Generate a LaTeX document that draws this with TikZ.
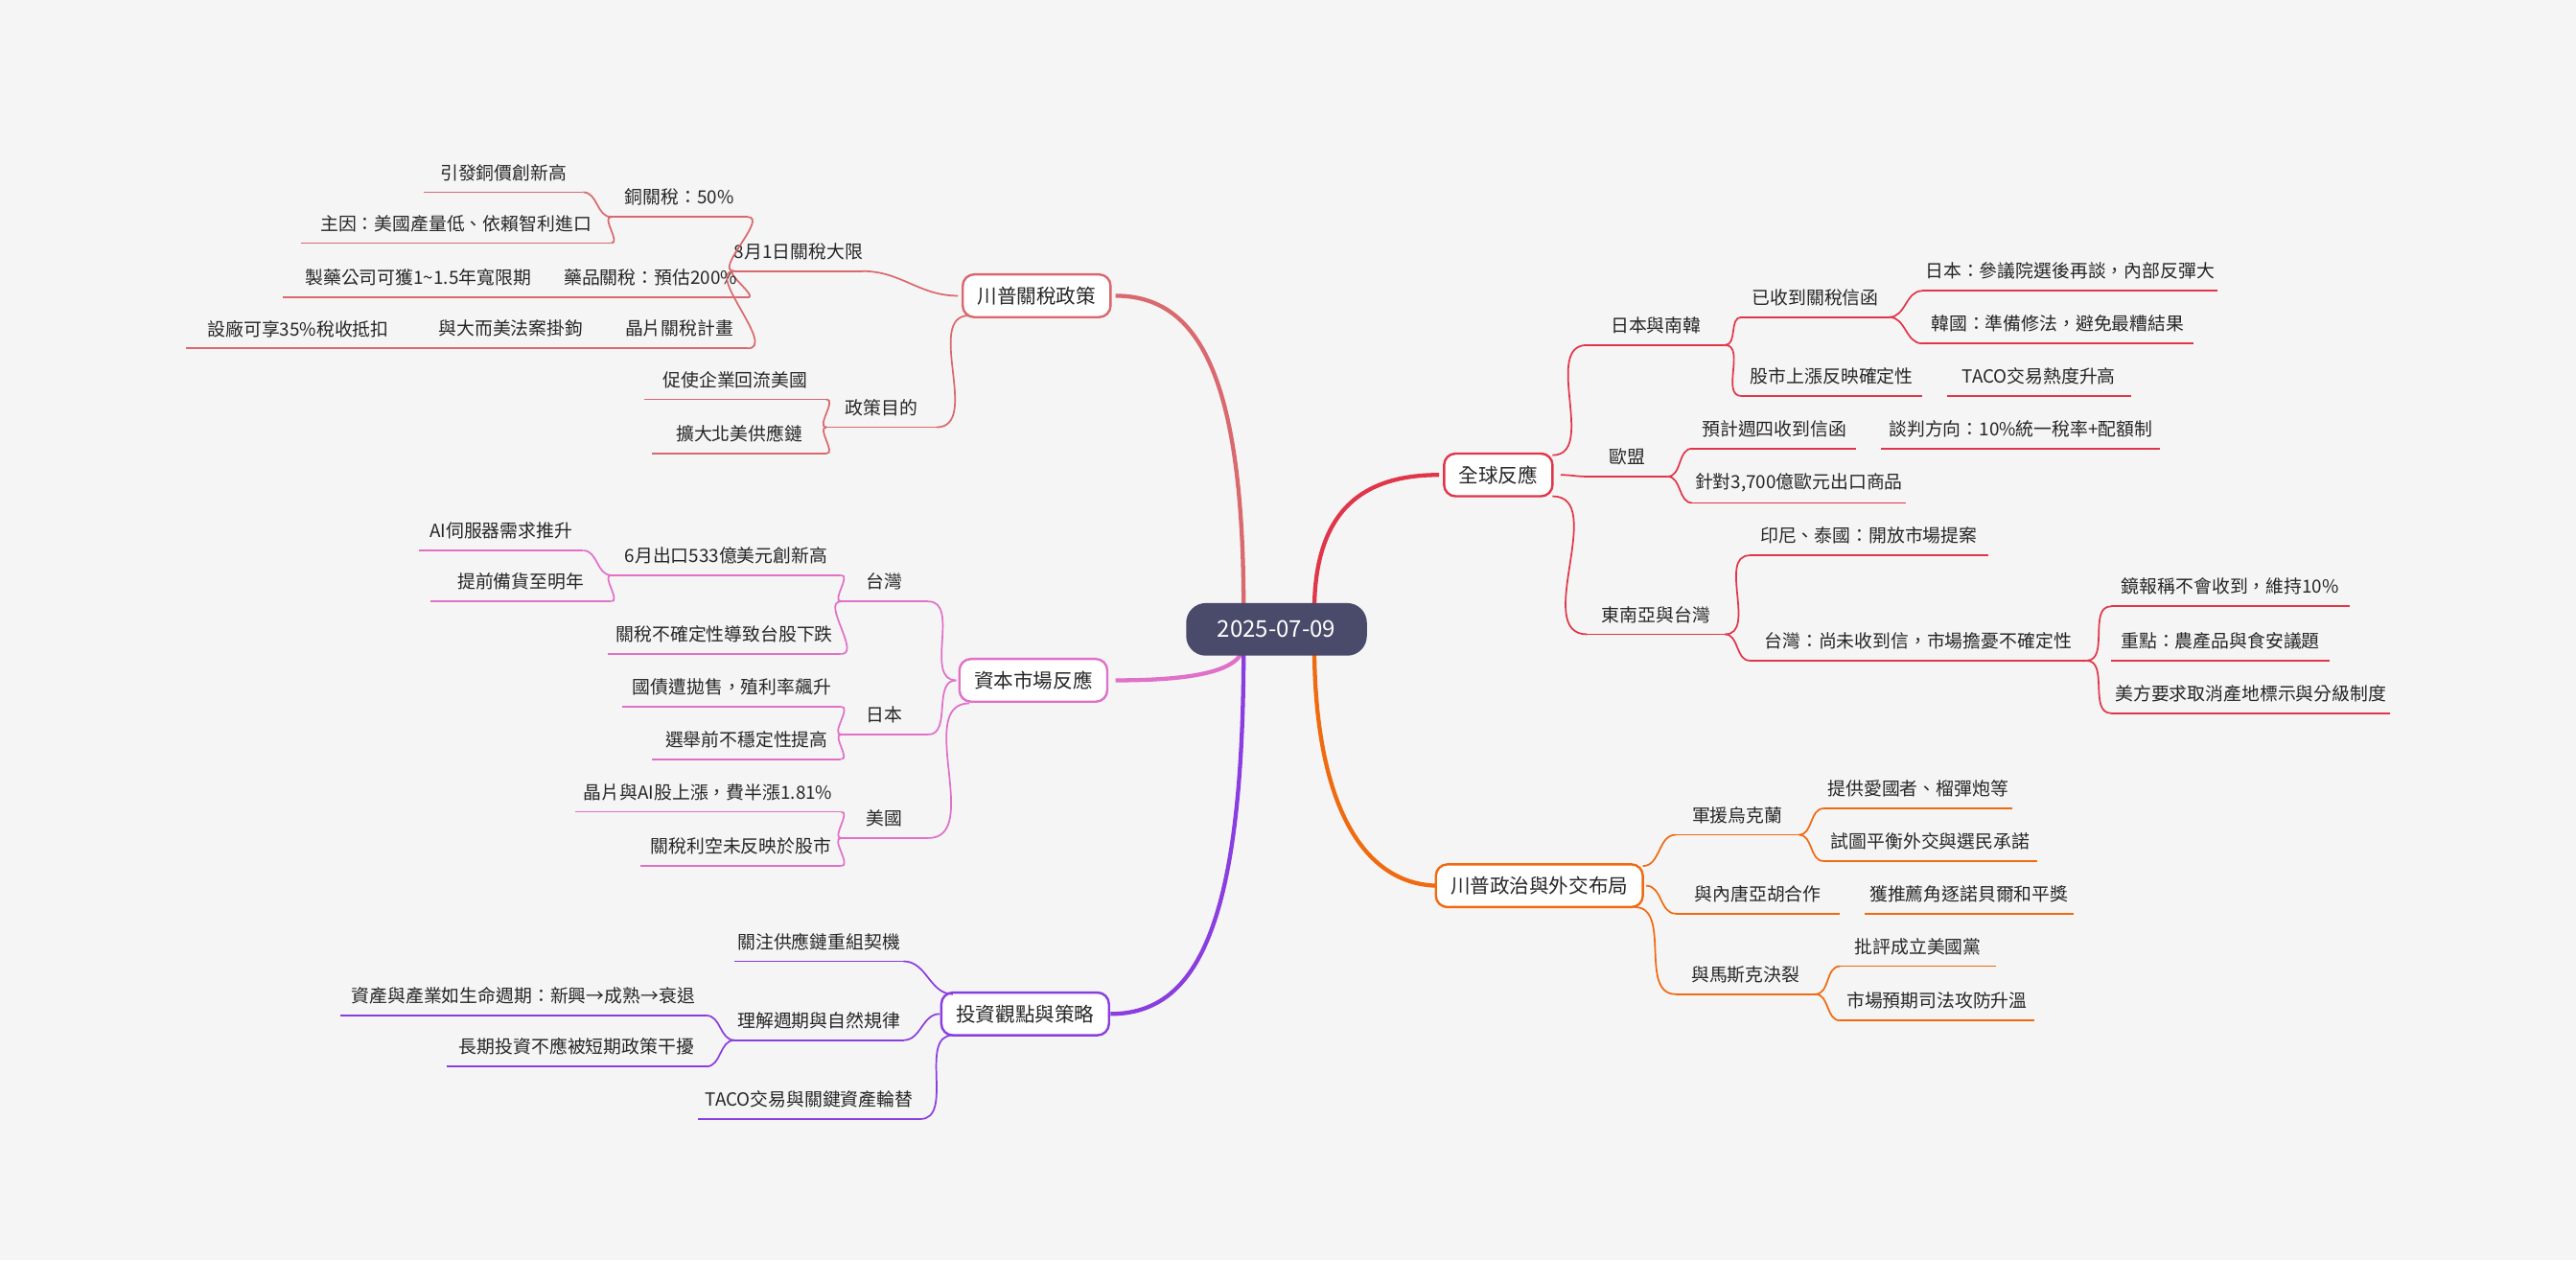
\documentclass[tikz,border=0pt]{standalone}
\usepackage{fontspec}
\setmainfont{Noto Sans CJK TC}
\definecolor{cA}{HTML}{D9696E}
\definecolor{cB}{HTML}{E070C8}
\definecolor{cC}{HTML}{8A3EE0}
\definecolor{cD}{HTML}{E0364A}
\definecolor{cE}{HTML}{F06A10}
\definecolor{bg}{HTML}{F5F5F5}
\definecolor{ctr}{HTML}{4A4A6A}
\tikzset{txt/.style={font=\fontsize{11}{13}\selectfont,text=black!85,inner sep=0pt},
 main/.style={draw=#1,line width=1.4pt,fill=white,rounded corners=7pt,minimum height=26,inner xsep=9pt,font=\fontsize{12}{14}\selectfont,text=black!85}}
\newcommand\lf[6]{\draw[#1,line width=#2] (#3,#5)--(#4,#5); \node[txt] at ({(#3+#4)/2},#5-12) {#6};}
\newcommand\myCL[4]{\draw[#1,line width=1pt] (#3) to[out=180,in=0] (#4);}
\newcommand\myCR[4]{\draw[#1,line width=1pt] (#3) to[out=0,in=180] (#4);}
\begin{document}
\begin{tikzpicture}[x=1pt,y=-1pt]
\fill[bg] (0,0) rectangle (1568,767);
\useasboundingbox (0,0) rectangle (1568,767);
% main curves
\draw[cA,line width=2.5pt] (757,372) .. controls (757,230) and (730,180) .. (679,180);
\draw[cB,line width=2.5pt] (757,392) .. controls (757,410) and (720,414) .. (679,414);
\draw[cC,line width=2.5pt] (757,392) .. controls (757,560) and (730,617) .. (676,617);
\draw[cD,line width=2.5pt] (800,372) .. controls (800,310) and (830,289) .. (876,289);
\draw[cE,line width=2.5pt] (800,392) .. controls (800,490) and (830,539) .. (876,539);
\node[fill=ctr,rounded corners=12pt,minimum width=110,minimum height=32,text=white,font=\fontsize{14}{16}\selectfont] (c) at (777,383) {2025-07-09};
% branch A
\node[main=cA] (a) at (631,180) {川普關稅政策};
\myCL{cA}{}{583,180}{525,165}\lf{cA}{1pt}{447}{525}{165}{8月1日關稅大限}
\myCL{cA}{}{447,165}{455,132}\lf{cA}{1pt}{372}{455}{132}{銅關稅：50\%}
\myCL{cA}{}{372,132}{355,117}\lf{cA}{1pt}{258}{355}{117}{引發銅價創新高}
\myCL{cA}{}{372,132}{372,148}\lf{cA}{1pt}{183}{372}{148}{主因：美國產量低、依賴智利進口}
\myCL{cA}{}{447,165}{455,181}\lf{cA}{1pt}{337}{455}{181}{藥品關稅：預估200\%}
\lf{cA}{1pt}{172}{337}{181}{製藥公司可獲1\textasciitilde1.5年寬限期}
\myCL{cA}{}{447,165}{455,212}\lf{cA}{1pt}{372}{455}{212}{晶片關稅計畫}
\lf{cA}{1pt}{250}{372}{212}{與大而美法案掛鉤}
\lf{cA}{1pt}{113}{250}{212}{設廠可享35\%稅收抵扣}
\myCL{cA}{}{590,192}{570,260}\lf{cA}{1pt}{503}{570}{260}{政策目的}
\myCL{cA}{}{503,260}{503,243}\lf{cA}{1pt}{392}{503}{243}{促使企業回流美國}
\myCL{cA}{}{503,260}{503,276}\lf{cA}{1pt}{397}{503}{276}{擴大北美供應鏈}
% branch B
\node[main=cB] (b) at (629,414) {資本市場反應};
\myCL{cB}{}{582,414}{565,366}\lf{cB}{1pt}{512}{565}{366}{台灣}
\myCL{cB}{}{512,366}{512,350}\lf{cB}{1pt}{372}{512}{350}{6月出口533億美元創新高}
\myCL{cB}{}{372,350}{355,335}\lf{cB}{1pt}{255}{355}{335}{AI伺服器需求推升}
\myCL{cB}{}{372,350}{372,366}\lf{cB}{1pt}{262}{372}{366}{提前備貨至明年}
\myCL{cB}{}{512,366}{512,398}\lf{cB}{1pt}{370}{512}{398}{關稅不確定性導致台股下跌}
\myCL{cB}{}{582,414}{565,447}\lf{cB}{1pt}{512}{565}{447}{日本}
\myCL{cB}{}{512,447}{512,430}\lf{cB}{1pt}{379}{512}{430}{國債遭拋售，殖利率飆升}
\myCL{cB}{}{512,447}{512,462}\lf{cB}{1pt}{397}{512}{462}{選舉前不穩定性提高}
\myCL{cB}{}{590,428}{565,510}\lf{cB}{1pt}{512}{565}{510}{美國}
\myCL{cB}{}{512,510}{512,494}\lf{cB}{1pt}{350}{512}{494}{晶片與AI股上漲，費半漲1.81\%}
\myCL{cB}{}{512,510}{512,527}\lf{cB}{1pt}{390}{512}{527}{關稅利空未反映於股市}
% branch C
\node[main=cC] (cc) at (624,617) {投資觀點與策略};
\myCL{cC}{}{580,605}{550,585}\lf{cC}{1pt}{447}{550}{585}{關注供應鏈重組契機}
\myCL{cC}{}{572,617}{550,633}\lf{cC}{1pt}{447}{550}{633}{理解週期與自然規律}
\myCL{cC}{}{447,633}{430,618}\lf{cC}{1pt}{207}{430}{618}{資產與產業如生命週期：新興→成熟→衰退}
\myCL{cC}{}{447,633}{430,649}\lf{cC}{1pt}{272}{430}{649}{長期投資不應被短期政策干擾}
\myCL{cC}{}{580,630}{560,681}\lf{cC}{1pt}{425}{560}{681}{TACO交易與關鍵資產輪替}
% branch D
\node[main=cD] (d) at (912,289) {全球反應};
\myCR{cD}{}{945,277}{966,210}\lf{cD}{1pt}{966}{1050}{210}{日本與南韓}
\myCR{cD}{}{1050,210}{1060,193}\lf{cD}{1pt}{1060}{1150}{193}{已收到關稅信函}
\myCR{cD}{}{1150,193}{1170,177}\lf{cD}{1pt}{1170}{1350}{177}{日本：參議院選後再談，內部反彈大}
\myCR{cD}{}{1150,193}{1170,209}\lf{cD}{1pt}{1170}{1335}{209}{韓國：準備修法，避免最糟結果}
\myCR{cD}{}{1050,210}{1060,241}\lf{cD}{1pt}{1060}{1170}{241}{股市上漲反映確定性}
\lf{cD}{1pt}{1185}{1297}{241}{TACO交易熱度升高}
\myCR{cD}{}{950,289}{966,290}\lf{cD}{1pt}{966}{1015}{290}{歐盟}
\myCR{cD}{}{1015,290}{1030,273}\lf{cD}{1pt}{1030}{1130}{273}{預計週四收到信函}
\lf{cD}{1pt}{1145}{1315}{273}{談判方向：10\%統一稅率+配額制}
\myCR{cD}{}{1015,290}{1030,306}\lf{cD}{1pt}{1030}{1160}{306}{針對3,700億歐元出口商品}
\myCR{cD}{}{945,302}{966,386}\lf{cD}{1pt}{966}{1050}{386}{東南亞與台灣}
\myCR{cD}{}{1050,386}{1065,338}\lf{cD}{1pt}{1065}{1210}{338}{印尼、泰國：開放市場提案}
\myCR{cD}{}{1050,386}{1065,402}\lf{cD}{1pt}{1065}{1270}{402}{台灣：尚未收到信，市場擔憂不確定性}
\myCR{cD}{}{1270,402}{1285,369}\lf{cD}{1pt}{1285}{1430}{369}{鏡報稱不會收到，維持10\%}
\lf{cD}{1pt}{1285}{1418}{402}{重點：農產品與食安議題}
\myCR{cD}{}{1270,402}{1285,434}\lf{cD}{1pt}{1285}{1455}{434}{美方要求取消產地標示與分級制度}
% branch E
\node[main=cE] (e) at (937,539) {川普政治與外交布局};
\myCR{cE}{}{1000,527}{1020,508}\lf{cE}{1pt}{1020}{1095}{508}{軍援烏克蘭}
\myCR{cE}{}{1095,508}{1110,492}\lf{cE}{1pt}{1110}{1225}{492}{提供愛國者、榴彈炮等}
\myCR{cE}{}{1095,508}{1110,524}\lf{cE}{1pt}{1110}{1240}{524}{試圖平衡外交與選民承諾}
\myCR{cE}{}{1002,539}{1020,556}\lf{cE}{1pt}{1020}{1120}{556}{與內唐亞胡合作}
\lf{cE}{1pt}{1135}{1262}{556}{獲推薦角逐諾貝爾和平獎}
\myCR{cE}{}{995,552}{1020,605}\lf{cE}{1pt}{1020}{1105}{605}{與馬斯克決裂}
\myCR{cE}{}{1105,605}{1120,588}\lf{cE}{1pt}{1120}{1215}{588}{批評成立美國黨}
\myCR{cE}{}{1105,605}{1120,621}\lf{cE}{1pt}{1120}{1238}{621}{市場預期司法攻防升溫}
\end{tikzpicture}
\end{document}
